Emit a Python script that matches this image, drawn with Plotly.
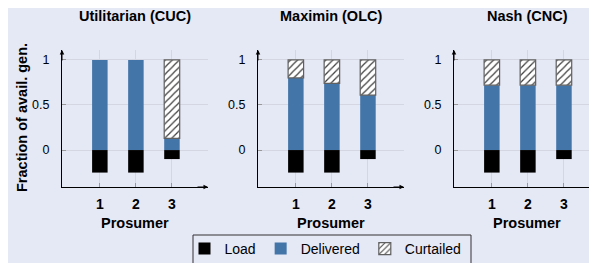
import plotly.graph_objects as go

# ---- data ----
prosumers = [1, 2, 3]
panel_titles = ["Utilitarian (CUC)", "Maximin (OLC)", "Nash (CNC)"]
load_cuc = [-0.25, -0.25, -0.10]
deliv_cuc = [1.00, 1.00, 0.13]
curt_cuc = [0.00, 0.00, 0.87]
load_olc = [-0.25, -0.25, -0.10]
deliv_olc = [0.80, 0.74, 0.61]
curt_olc = [0.20, 0.26, 0.39]
load_cnc = [-0.25, -0.25, -0.10]
deliv_cnc = [0.72, 0.72, 0.72]
curt_cnc = [0.28, 0.28, 0.28]
y_tickvals = [0, 0.5, 1]
y_ticktext = ["0", "0.5", "1"]

panels = [
    (load_cuc, deliv_cuc, curt_cuc),
    (load_olc, deliv_olc, curt_olc),
    (load_cnc, deliv_cnc, curt_cnc),
]

BG = "#E5E8F5"
BLUE = "#4475A9"
GRID = "#D4D7E2"
FONT = "Liberation Sans, Arial, sans-serif"
W, H = 597, 263
OFF = 8  # page body margin offset of the plot div


def px(xs):
    return (xs - OFF) / W


def py(ys):
    return (H - (ys - OFF)) / H


fig = go.Figure()

x_left = [62, 258, 454]
x_dom = [(px(x), px(x + 146)) for x in x_left]
x_rng = (-0.05, 4.0)
y_rng = (-0.41, 1.11)
y_dom = (py(187), py(50))

for i, (ld, dv, ct) in enumerate(panels):
    xa = "x" if i == 0 else f"x{i+1}"
    ya = "y" if i == 0 else f"y{i+1}"
    show = i == 0
    fig.add_trace(go.Bar(x=prosumers, y=ld, name="Load", xaxis=xa, yaxis=ya,
                         marker=dict(color="black", line=dict(width=0)),
                         width=0.43, showlegend=show, legendgroup="load"))
    fig.add_trace(go.Bar(x=prosumers, y=dv, name="Delivered", xaxis=xa, yaxis=ya,
                         marker=dict(color=BLUE, line=dict(width=0)),
                         width=0.43, showlegend=show, legendgroup="del"))
    fig.add_trace(go.Bar(x=prosumers, y=[c if c > 0 else None for c in ct],
                         name="Curtailed", xaxis=xa, yaxis=ya,
                         marker=dict(color="white", line=dict(width=1.2, color="#606060"),
                                     pattern=dict(shape="/", fgcolor="#404040",
                                                  bgcolor="white", size=5, solidity=0.25)),
                         width=0.43, showlegend=show, legendgroup="cur"))

layout = dict(
    template="none",
    width=W, height=H,
    margin=dict(l=0, r=0, t=0, b=0, pad=0, autoexpand=False),
    paper_bgcolor=BG, plot_bgcolor=BG,
    barmode="relative",
    font=dict(family=FONT, size=14, color="black"),
    legend=dict(orientation="h", x=px(325.5), xanchor="center", y=py(233),
                yanchor="top", borderwidth=0,
                bgcolor="rgba(0,0,0,0)", font=dict(size=14), traceorder="normal"),
    showlegend=True,
    shapes=[dict(type="rect", xref="paper", yref="paper",
                 x0=px(193), x1=px(471), y0=py(275), y1=py(235),
                 line=dict(color="#333333", width=1), fillcolor="rgba(0,0,0,0)",
                 layer="below")],
)

annotations = []
for i in range(3):
    xk = "xaxis" if i == 0 else f"xaxis{i+1}"
    yk = "yaxis" if i == 0 else f"yaxis{i+1}"
    xa = "x" if i == 0 else f"x{i+1}"
    ya = "y" if i == 0 else f"y{i+1}"
    layout[xk] = dict(domain=list(x_dom[i]), range=list(x_rng), anchor=ya,
                      tickvals=prosumers, ticktext=[str(p) for p in prosumers],
                      showgrid=True, gridcolor=GRID, gridwidth=1,
                      showline=True, linecolor="black", linewidth=1,
                      ticks="inside", ticklen=4, tickcolor="#999999",
                      tickfont=dict(size=14, family=FONT, weight="bold"),
                      ticklabelstandoff=4, zeroline=False, fixedrange=True,
                      automargin=False)
    layout[yk] = dict(domain=list(y_dom), range=list(y_rng), anchor=xa,
                      tickvals=y_tickvals, ticktext=y_ticktext,
                      showgrid=True, gridcolor=GRID, gridwidth=1,
                      showline=True, linecolor="black", linewidth=1,
                      ticks="inside", ticklen=4, tickcolor="#999999",
                      tickfont=dict(size=12.5, family=FONT),
                      ticklabelstandoff=9, zeroline=False, fixedrange=True,
                      automargin=False)
    cx = px(x_left[i] + 73)
    annotations.append(dict(text=f"<b>{panel_titles[i]}</b>", x=cx, y=py(16),
                            xref="paper", yref="paper", showarrow=False,
                            xanchor="center", yanchor="middle",
                            font=dict(size=14.5, family=FONT)))
    annotations.append(dict(text="<b>Prosumer</b>", x=cx, y=py(223),
                            xref="paper", yref="paper", showarrow=False,
                            xanchor="center", yanchor="middle",
                            font=dict(size=14.5, family=FONT)))
    # axis arrowheads
    annotations.append(dict(text="", x=px(x_left[i]), y=py(50), ax=0, ay=12,
                            xref="paper", yref="paper", showarrow=True,
                            arrowhead=2, arrowsize=0.9, arrowwidth=1, arrowcolor="black"))
    annotations.append(dict(text="", x=px(x_left[i] + 146), y=py(187), ax=-12, ay=0,
                            xref="paper", yref="paper", showarrow=True,
                            arrowhead=2, arrowsize=0.9, arrowwidth=1, arrowcolor="black"))

annotations.append(dict(text="<b>Fraction of avail. gen.</b>", x=px(22), y=py(118),
                        xref="paper", yref="paper", showarrow=False, textangle=-90,
                        xanchor="center", yanchor="middle",
                        font=dict(size=14.5, family=FONT)))
layout["annotations"] = annotations

fig.update_layout(**layout)
fig.write_html("out.html")
